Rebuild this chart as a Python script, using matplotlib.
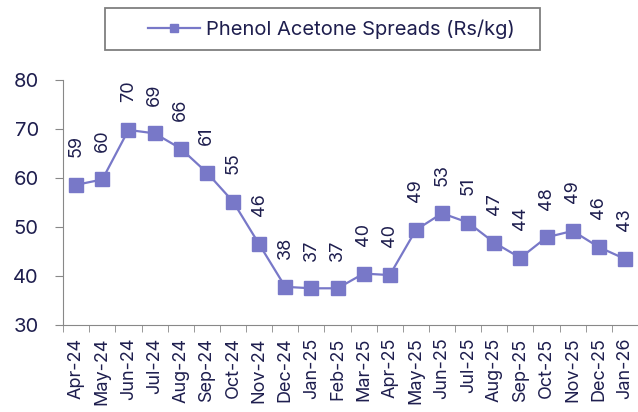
import matplotlib.pyplot as plt
from matplotlib.patches import Rectangle
import numpy as np

months = ['Apr-24', 'May-24', 'Jun-24', 'Jul-24', 'Aug-24', 'Sep-24', 'Oct-24', 'Nov-24',
          'Dec-24', 'Jan-25', 'Feb-25', 'Mar-25', 'Apr-25', 'May-25', 'Jun-25', 'Jul-25',
          'Aug-25', 'Sep-25', 'Oct-25', 'Nov-25', 'Dec-25', 'Jan-26']
spreads = [58.6, 59.7, 69.8, 69.1, 66.0, 61.1, 55.2, 46.5, 37.8, 37.5, 37.5, 40.5,
           40.2, 49.4, 52.8, 50.9, 46.8, 43.7, 47.9, 49.2, 45.9, 43.5]
labels = ['59', '60', '70', '69', '66', '61', '55', '46', '38', '37', '37', '40',
          '40', '49', '53', '51', '47', '44', '48', '49', '46', '43']

plt.rcParams['font.family'] = ['Inter', 'DejaVu Sans']
text_col = '#1e1e4e'
line_col = '#7878c8'

fig = plt.figure(figsize=(6.38, 4.12), dpi=100)
ax = fig.add_axes([0.099, 0.211, 0.901, 0.595])

x = np.arange(len(months))
ax.plot(x, spreads, color=line_col, lw=1.6, marker='s', markersize=10,
        markeredgecolor=line_col, label='Phenol Acetone Spreads (Rs/kg)')

# rotated value labels above each point
for xi, yi, lab in zip(x, spreads, labels):
    ax.annotate(lab, (xi, yi), xytext=(0, 20), textcoords='offset points',
                rotation=90, ha='center', va='bottom', fontsize=13, color=text_col)

ax.set_xlim(-0.5, len(months) - 0.5)
ax.set_ylim(30, 80)
ax.set_yticks([30, 40, 50, 60, 70, 80])
ax.set_xticks(x)
ax.set_xticklabels(months, rotation=90)
ax.set_xticks(np.arange(len(months) + 1) - 0.5, minor=True)
ax.tick_params(axis='x', which='major', length=0, pad=9, labelsize=13, labelcolor=text_col)
ax.tick_params(axis='x', which='minor', length=5, color='#888888')
ax.tick_params(axis='y', length=5.5, color='#888888', labelsize=14.5, labelcolor=text_col, pad=12)

for s in ['top', 'right']:
    ax.spines[s].set_visible(False)
for s in ['left', 'bottom']:
    ax.spines[s].set_color('#888888')

# legend without its own frame, box drawn separately (wider padding than legend allows)
leg = fig.legend(loc='center left', bbox_to_anchor=(148 / 638, 1 - 29 / 412), fontsize=14.5,
                 frameon=False, handlelength=2.6, handletextpad=0.3, borderpad=0,
                 borderaxespad=0, markerscale=0.6)
for t in leg.get_texts():
    t.set_color(text_col)
fig.patches.append(Rectangle((105 / 638, 1 - 50 / 412), 435 / 638, 42 / 412,
                             transform=fig.transFigure, fill=False,
                             edgecolor='#7f7f7f', linewidth=1.3))

fig.savefig('out.png', dpi=100)
